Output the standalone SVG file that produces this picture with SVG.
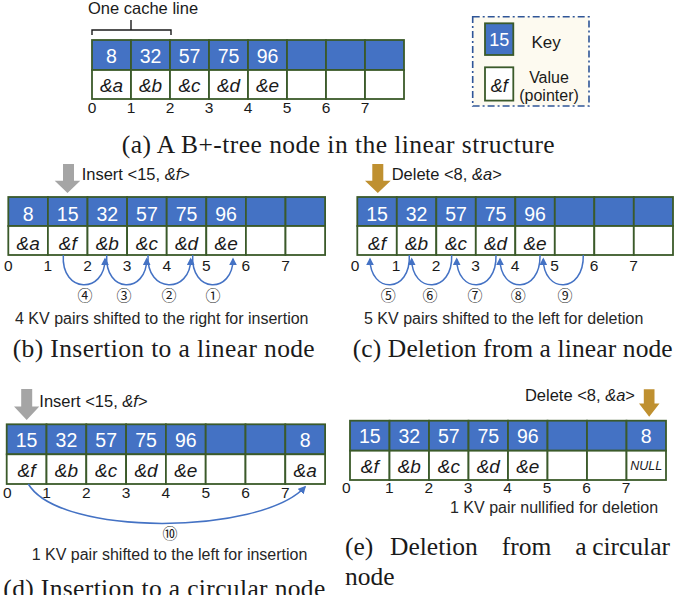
<svg xmlns="http://www.w3.org/2000/svg" width="674" height="595" viewBox="0 0 674 595">
<style>
.k{fill:#4472C4;stroke:#3B5A2A;stroke-width:1.8}
.v{fill:#FFFFFF;stroke:#3B5A2A;stroke-width:1.8}
.kt{font-family:"Liberation Sans",Arial,sans-serif;font-size:19.5px;fill:#FFFFFF;text-anchor:middle}
.vt{font-family:"Liberation Sans",Arial,sans-serif;font-size:19px;font-style:italic;fill:#1A1A1A;text-anchor:middle}
.ix{font-family:"Liberation Sans",Arial,sans-serif;font-size:15.5px;fill:#1A1A1A;text-anchor:middle}
.lb{font-family:"Liberation Sans",Arial,sans-serif;font-size:16.5px;fill:#1A1A1A}
.sm{font-family:"Liberation Sans",Arial,sans-serif;font-size:16px;fill:#262626}
.cap{font-family:"Liberation Serif","Times New Roman",serif;font-size:25.5px;fill:#1A1A1A}
.cn{font-family:"Noto Sans CJK SC","DejaVu Sans",sans-serif;font-size:15px;fill:#1A1A1A;text-anchor:middle}
.arc{fill:none;stroke:#4472C4;stroke-width:1.5;marker-end:url(#ah)}
.gray{fill:#A5A5A5}
.gold{fill:#BF9030}
</style>
<defs>
<marker id="ah" viewBox="0 0 10 10" refX="8" refY="5" markerWidth="8" markerHeight="8" markerUnits="userSpaceOnUse" orient="auto">
<path d="M0,0 L10,5 L0,10 z" fill="#4472C4"/>
</marker>
</defs>

<!-- Panel (a) -->
<g id="brace">
<path d="M92,35 L92,30 L131,30 L131,20 M131,30 L171,30 L171,35" fill="none" stroke="#1A1A1A" stroke-width="1.4"/>
<text class="lb" x="88" y="14">One cache line</text>
</g>
<g id="nodeA">
<rect class="k" x="92" y="40" width="39" height="30"/>
<rect class="k" x="131" y="40" width="39" height="30"/>
<rect class="k" x="170" y="40" width="39" height="30"/>
<rect class="k" x="209" y="40" width="39" height="30"/>
<rect class="k" x="248" y="40" width="39" height="30"/>
<rect class="k" x="287" y="40" width="39" height="30"/>
<rect class="k" x="326" y="40" width="39" height="30"/>
<rect class="k" x="365" y="40" width="39" height="30"/>
<rect class="v" x="92" y="70" width="39" height="29"/>
<rect class="v" x="131" y="70" width="39" height="29"/>
<rect class="v" x="170" y="70" width="39" height="29"/>
<rect class="v" x="209" y="70" width="39" height="29"/>
<rect class="v" x="248" y="70" width="39" height="29"/>
<rect class="v" x="287" y="70" width="39" height="29"/>
<rect class="v" x="326" y="70" width="39" height="29"/>
<rect class="v" x="365" y="70" width="39" height="29"/>
<text class="kt" x="111.5" y="62.5">8</text>
<text class="kt" x="150.5" y="62.5">32</text>
<text class="kt" x="189.5" y="62.5">57</text>
<text class="kt" x="228.5" y="62.5">75</text>
<text class="kt" x="267.5" y="62.5">96</text>
<text class="vt" x="111.5" y="92">&amp;a</text>
<text class="vt" x="150.5" y="92">&amp;b</text>
<text class="vt" x="189.5" y="92">&amp;c</text>
<text class="vt" x="228.5" y="92">&amp;d</text>
<text class="vt" x="267.5" y="92">&amp;e</text>
<text class="ix" x="92" y="113">0</text>
<text class="ix" x="131" y="113">1</text>
<text class="ix" x="170" y="113">2</text>
<text class="ix" x="209" y="113">3</text>
<text class="ix" x="248" y="113">4</text>
<text class="ix" x="287" y="113">5</text>
<text class="ix" x="326" y="113">6</text>
<text class="ix" x="365" y="113">7</text>
</g>
<g id="legend">
<rect x="472.7" y="16.7" width="116.3" height="89.3" fill="#FDFAF0" stroke="#2F5597" stroke-width="1.6" stroke-dasharray="7,3,2,3"/>
<rect class="k" x="485" y="23.3" width="28.3" height="31.7"/>
<text class="kt" x="499.2" y="45.5" style="font-size:18px">15</text>
<text class="lb" x="531.5" y="48" style="font-size:17px">Key</text>
<rect class="v" x="485" y="67.3" width="28.3" height="33.3"/>
<text class="vt" x="499.2" y="91.5" style="font-size:18px">&amp;f</text>
<text class="lb" x="549" y="83" style="font-size:16px;text-anchor:middle">Value</text>
<text class="lb" x="549" y="100.5" style="font-size:16px;text-anchor:middle">(pointer)</text>
</g>
<text class="cap" x="121.7" y="153" textLength="433" lengthAdjust="spacing">(a) A B+-tree node in the linear structure</text>

<!-- Panel (b) -->
<g id="arrowB">
<path class="gray" d="M63,164 L74,164 L74,180.7 L80.3,180.7 L67.5,193 L54.7,180.7 L63,180.7 z"/>
<text class="lb" x="81.7" y="180">Insert &lt;15, <tspan font-style="italic">&amp;f</tspan>&gt;</text>
</g>
<g id="nodeB">
<rect class="k" x="8.3" y="197" width="39.6" height="29"/>
<rect class="k" x="47.9" y="197" width="39.6" height="29"/>
<rect class="k" x="87.5" y="197" width="39.6" height="29"/>
<rect class="k" x="127.1" y="197" width="39.6" height="29"/>
<rect class="k" x="166.7" y="197" width="39.6" height="29"/>
<rect class="k" x="206.3" y="197" width="39.6" height="29"/>
<rect class="k" x="245.9" y="197" width="39.6" height="29"/>
<rect class="k" x="285.5" y="197" width="39.6" height="29"/>
<rect class="v" x="8.3" y="226" width="39.6" height="29"/>
<rect class="v" x="47.9" y="226" width="39.6" height="29"/>
<rect class="v" x="87.5" y="226" width="39.6" height="29"/>
<rect class="v" x="127.1" y="226" width="39.6" height="29"/>
<rect class="v" x="166.7" y="226" width="39.6" height="29"/>
<rect class="v" x="206.3" y="226" width="39.6" height="29"/>
<rect class="v" x="245.9" y="226" width="39.6" height="29"/>
<rect class="v" x="285.5" y="226" width="39.6" height="29"/>
<text class="kt" x="28.1" y="220.5">8</text>
<text class="kt" x="67.7" y="220.5">15</text>
<text class="kt" x="107.3" y="220.5">32</text>
<text class="kt" x="146.9" y="220.5">57</text>
<text class="kt" x="186.5" y="220.5">75</text>
<text class="kt" x="226.1" y="220.5">96</text>
<text class="vt" x="28.1" y="250">&amp;a</text>
<text class="vt" x="67.7" y="250">&amp;f</text>
<text class="vt" x="107.3" y="250">&amp;b</text>
<text class="vt" x="146.9" y="250">&amp;c</text>
<text class="vt" x="186.5" y="250">&amp;d</text>
<text class="vt" x="226.1" y="250">&amp;e</text>
<text class="ix" x="8.3" y="271">0</text>
<text class="ix" x="47.9" y="271">1</text>
<text class="ix" x="87.5" y="271">2</text>
<text class="ix" x="127.1" y="271">3</text>
<text class="ix" x="166.7" y="271">4</text>
<text class="ix" x="206.3" y="271">5</text>
<text class="ix" x="245.9" y="271">6</text>
<text class="ix" x="285.5" y="271">7</text>
</g>
<g id="connectorsB">
<path class="arc" d="M63.3,255 C61,294 105,294 105,259"/>
<path class="arc" d="M106.7,255 C104.5,294 146.7,294 146.7,259"/>
<path class="arc" d="M148,255 C146,294 190.7,294 190.7,259"/>
<path class="arc" d="M192.7,255 C190.5,294 233,294 233,259"/>
</g>
<text class="cn" x="85" y="300.7">④</text>
<text class="cn" x="124" y="300.7">③</text>
<text class="cn" x="169" y="300.7">②</text>
<text class="cn" x="213" y="300.7">①</text>
<text class="sm" x="15" y="324">4 KV pairs shifted to the right for insertion</text>
<text class="cap" x="12.7" y="357" textLength="302" lengthAdjust="spacing">(b) Insertion to a linear node</text>

<!-- Panel (c) -->
<g id="arrowC">
<path class="gold" d="M372.3,164 L383.3,164 L383.3,180.7 L390.7,180.7 L377.8,193 L365,180.7 L372.3,180.7 z"/>
<text class="lb" x="391.7" y="180">Delete &lt;8, <tspan font-style="italic">&amp;a</tspan>&gt;</text>
</g>
<g id="nodeC">
<rect class="k" x="357.3" y="197" width="39.5" height="29"/>
<rect class="k" x="396.8" y="197" width="39.5" height="29"/>
<rect class="k" x="436.3" y="197" width="39.5" height="29"/>
<rect class="k" x="475.8" y="197" width="39.5" height="29"/>
<rect class="k" x="515.3" y="197" width="39.5" height="29"/>
<rect class="k" x="554.8" y="197" width="39.5" height="29"/>
<rect class="k" x="594.3" y="197" width="39.5" height="29"/>
<rect class="k" x="633.8" y="197" width="39.2" height="29"/>
<rect class="v" x="357.3" y="226" width="39.5" height="29"/>
<rect class="v" x="396.8" y="226" width="39.5" height="29"/>
<rect class="v" x="436.3" y="226" width="39.5" height="29"/>
<rect class="v" x="475.8" y="226" width="39.5" height="29"/>
<rect class="v" x="515.3" y="226" width="39.5" height="29"/>
<rect class="v" x="554.8" y="226" width="39.5" height="29"/>
<rect class="v" x="594.3" y="226" width="39.5" height="29"/>
<rect class="v" x="633.8" y="226" width="39.2" height="29"/>
<text class="kt" x="377" y="220.5">15</text>
<text class="kt" x="416.5" y="220.5">32</text>
<text class="kt" x="456" y="220.5">57</text>
<text class="kt" x="495.5" y="220.5">75</text>
<text class="kt" x="535" y="220.5">96</text>
<text class="vt" x="377" y="250">&amp;f</text>
<text class="vt" x="416.5" y="250">&amp;b</text>
<text class="vt" x="456" y="250">&amp;c</text>
<text class="vt" x="495.5" y="250">&amp;d</text>
<text class="vt" x="535" y="250">&amp;e</text>
<text class="ix" x="355" y="271">0</text>
<text class="ix" x="396" y="271">1</text>
<text class="ix" x="436" y="271">2</text>
<text class="ix" x="475.5" y="271">3</text>
<text class="ix" x="515" y="271">4</text>
<text class="ix" x="554.5" y="271">5</text>
<text class="ix" x="594" y="271">6</text>
<text class="ix" x="633.5" y="271">7</text>
</g>
<g id="connectorsC">
<path class="arc" d="M409.3,255 C411,294 370,294 370,259"/>
<path class="arc" d="M451.7,255 C453,294 411.7,294 411.7,259"/>
<path class="arc" d="M496,255 C497,294 456.7,294 456.7,259"/>
<path class="arc" d="M540,255 C541,294 500,294 500,259"/>
<path class="arc" d="M583.3,255 C584,294 543.3,294 543.3,259"/>
</g>
<text class="cn" x="388.3" y="300.7">⑤</text>
<text class="cn" x="430" y="300.7">⑥</text>
<text class="cn" x="475" y="300.7">⑦</text>
<text class="cn" x="518.3" y="300.7">⑧</text>
<text class="cn" x="565" y="300.7">⑨</text>
<text class="sm" x="364" y="324">5 KV pairs shifted to the left for deletion</text>
<text class="cap" x="352.7" y="357" textLength="320" lengthAdjust="spacing">(c) Deletion from a linear node</text>

<!-- Panel (d) -->
<g id="arrowD">
<path class="gray" d="M21.2,389 L32.2,389 L32.2,406.5 L39.3,406.5 L26.7,420 L14,406.5 L21.2,406.5 z"/>
<text class="lb" x="39.3" y="406.7">Insert &lt;15, <tspan font-style="italic">&amp;f</tspan>&gt;</text>
</g>
<g id="nodeD">
<rect class="k" x="6.7" y="424.3" width="39.8" height="30"/>
<rect class="k" x="46.5" y="424.3" width="39.8" height="30"/>
<rect class="k" x="86.3" y="424.3" width="39.8" height="30"/>
<rect class="k" x="126.1" y="424.3" width="39.8" height="30"/>
<rect class="k" x="165.9" y="424.3" width="39.8" height="30"/>
<rect class="k" x="205.7" y="424.3" width="39.8" height="30"/>
<rect class="k" x="245.5" y="424.3" width="39.8" height="30"/>
<rect class="k" x="285.3" y="424.3" width="39.8" height="30"/>
<rect class="v" x="6.7" y="454.3" width="39.8" height="29.7"/>
<rect class="v" x="46.5" y="454.3" width="39.8" height="29.7"/>
<rect class="v" x="86.3" y="454.3" width="39.8" height="29.7"/>
<rect class="v" x="126.1" y="454.3" width="39.8" height="29.7"/>
<rect class="v" x="165.9" y="454.3" width="39.8" height="29.7"/>
<rect class="v" x="205.7" y="454.3" width="39.8" height="29.7"/>
<rect class="v" x="245.5" y="454.3" width="39.8" height="29.7"/>
<rect class="v" x="285.3" y="454.3" width="39.8" height="29.7"/>
<text class="kt" x="26.6" y="446.5">15</text>
<text class="kt" x="66.4" y="446.5">32</text>
<text class="kt" x="106.2" y="446.5">57</text>
<text class="kt" x="146" y="446.5">75</text>
<text class="kt" x="185.8" y="446.5">96</text>
<text class="kt" x="305.2" y="446.5">8</text>
<text class="vt" x="26.6" y="476.5">&amp;f</text>
<text class="vt" x="66.4" y="476.5">&amp;b</text>
<text class="vt" x="106.2" y="476.5">&amp;c</text>
<text class="vt" x="146" y="476.5">&amp;d</text>
<text class="vt" x="185.8" y="476.5">&amp;e</text>
<text class="vt" x="305.2" y="476.5">&amp;a</text>
<text class="ix" x="7.3" y="498">0</text>
<text class="ix" x="46.5" y="498">1</text>
<text class="ix" x="86.3" y="498">2</text>
<text class="ix" x="126.1" y="498">3</text>
<text class="ix" x="165.9" y="498">4</text>
<text class="ix" x="205.7" y="498">5</text>
<text class="ix" x="245.5" y="498">6</text>
<text class="ix" x="285.3" y="498">7</text>
</g>
<g id="connectorsD">
<path class="arc" d="M28.3,484 C60,537 260,535 305,487"/>
</g>
<text class="cn" x="170" y="538.5">⑩</text>
<text class="sm" x="31.7" y="560">1 KV pair shifted to the left for insertion</text>
<text class="cap" x="3.3" y="597" textLength="322" lengthAdjust="spacing">(d) Insertion to a circular node</text>

<!-- Panel (e) -->
<g id="arrowE">
<path class="gold" d="M643.8,389.3 L654.5,389.3 L654.5,403.5 L659.5,403.5 L649.2,416.7 L639,403.5 L643.8,403.5 z"/>
<text class="lb" x="635" y="400.7" style="text-anchor:end">Delete &lt;8, <tspan font-style="italic">&amp;a</tspan>&gt;</text>
</g>
<g id="nodeE">
<rect class="k" x="350" y="420.7" width="39.5" height="30"/>
<rect class="k" x="389.5" y="420.7" width="39.5" height="30"/>
<rect class="k" x="429" y="420.7" width="39.5" height="30"/>
<rect class="k" x="468.5" y="420.7" width="39.5" height="30"/>
<rect class="k" x="508" y="420.7" width="39.5" height="30"/>
<rect class="k" x="547.5" y="420.7" width="39.5" height="30"/>
<rect class="k" x="587" y="420.7" width="39.5" height="30"/>
<rect class="k" x="626.5" y="420.7" width="39.5" height="30"/>
<rect class="v" x="350" y="450.7" width="39.5" height="29.3"/>
<rect class="v" x="389.5" y="450.7" width="39.5" height="29.3"/>
<rect class="v" x="429" y="450.7" width="39.5" height="29.3"/>
<rect class="v" x="468.5" y="450.7" width="39.5" height="29.3"/>
<rect class="v" x="508" y="450.7" width="39.5" height="29.3"/>
<rect class="v" x="547.5" y="450.7" width="39.5" height="29.3"/>
<rect class="v" x="587" y="450.7" width="39.5" height="29.3"/>
<rect class="v" x="626.5" y="450.7" width="39.5" height="29.3"/>
<text class="kt" x="369.8" y="443.3">15</text>
<text class="kt" x="409.3" y="443.3">32</text>
<text class="kt" x="448.8" y="443.3">57</text>
<text class="kt" x="488.3" y="443.3">75</text>
<text class="kt" x="527.8" y="443.3">96</text>
<text class="kt" x="646.3" y="443.3">8</text>
<text class="vt" x="369.8" y="473">&amp;f</text>
<text class="vt" x="409.3" y="473">&amp;b</text>
<text class="vt" x="448.8" y="473">&amp;c</text>
<text class="vt" x="488.3" y="473">&amp;d</text>
<text class="vt" x="527.8" y="473">&amp;e</text>
<text class="vt" x="646.3" y="470" style="font-size:12.5px">NULL</text>
<text class="ix" x="346.3" y="493">0</text>
<text class="ix" x="389.3" y="493">1</text>
<text class="ix" x="428.7" y="493">2</text>
<text class="ix" x="468" y="493">3</text>
<text class="ix" x="507.5" y="493">4</text>
<text class="ix" x="547" y="493">5</text>
<text class="ix" x="586.5" y="493">6</text>
<text class="ix" x="626" y="493">7</text>
</g>
<text class="sm" x="450" y="513.3">1 KV pair nullified for deletion</text>
<text class="cap" x="345" y="555">(e)</text>
<text class="cap" x="390" y="555">Deletion</text>
<text class="cap" x="501.7" y="555">from</text>
<text class="cap" x="581" y="555" style="text-anchor:middle">a</text>
<text class="cap" x="670" y="555" style="text-anchor:end">circular</text>
<text class="cap" x="345" y="585">node</text>
</svg>
